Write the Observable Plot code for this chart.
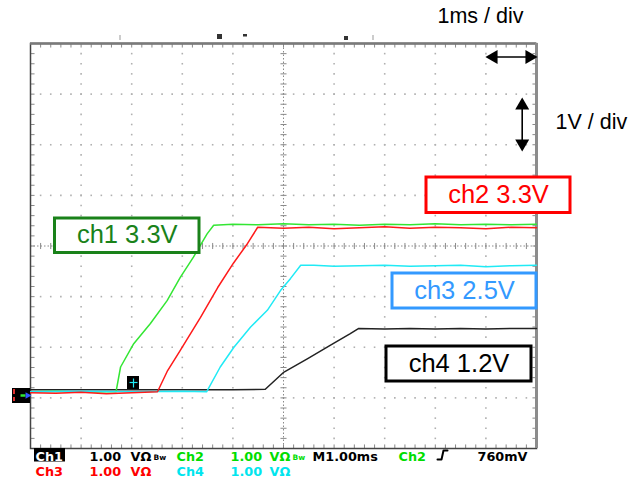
<!DOCTYPE html>
<html>
<head>
<meta charset="utf-8">
<script src="https://cdn.jsdelivr.net/npm/d3@7"></script>
<script src="https://cdn.jsdelivr.net/npm/@observablehq/plot@0.6"></script>
<style>
html, body { margin: 0; padding: 0; background: #fff; }
#chart svg { display: block; }
</style>
</head>
<body>
<div id="chart"></div>
<script>
// ---- Data (time in ms, voltage in V) ----
const ch1Time = [0, 0.5, 1.0, 1.5, 1.69, 1.78, 2.04, 2.37, 2.70, 2.96, 3.22, 3.49, 3.62, 4.0, 4.5, 5.0, 5.5, 6.0, 6.5, 7.0, 7.5, 8.0, 8.5, 9.0, 9.5, 10];
const ch1Volt = [0, 0.01, -0.01, 0, 0, 0.49, 0.95, 1.35, 1.80, 2.26, 2.66, 3.12, 3.29, 3.31, 3.30, 3.32, 3.30, 3.31, 3.29, 3.31, 3.30, 3.32, 3.30, 3.31, 3.30, 3.31];

const ch2Time = [0, 0.5, 1.0, 1.5, 2.0, 2.51, 2.71, 2.96, 3.36, 3.70, 4.01, 4.29, 4.49, 5.0, 5.5, 6.0, 6.5, 7.0, 7.5, 8.0, 8.5, 9.0, 9.5, 10];
const ch2Volt = [-0.02, -0.03, -0.01, -0.04, -0.02, 0, 0.42, 0.82, 1.47, 2.06, 2.54, 2.93, 3.25, 3.23, 3.25, 3.22, 3.24, 3.26, 3.23, 3.25, 3.24, 3.22, 3.25, 3.24];

const ch3Time = [0, 1, 2, 3, 3.48, 3.75, 4.02, 4.35, 4.68, 4.94, 5.14, 5.34, 5.6, 6, 6.5, 7, 7.5, 8, 8.5, 9, 9.5, 10];
const ch3Volt = [0, 0.01, 0, 0.01, 0, 0.49, 0.88, 1.28, 1.61, 2.00, 2.24, 2.50, 2.50, 2.48, 2.49, 2.50, 2.48, 2.49, 2.50, 2.47, 2.49, 2.50];

const ch4Time = [0, 1, 2, 3, 4, 4.64, 5.01, 5.47, 5.93, 6.32, 6.48, 7, 7.5, 8, 8.5, 9, 9.5, 10];
const ch4Volt = [0.04, 0.04, 0.04, 0.04, 0.04, 0.05, 0.39, 0.65, 0.92, 1.15, 1.25, 1.24, 1.25, 1.24, 1.25, 1.24, 1.25, 1.25];

const channelNames = ["ch1", "ch2", "ch3", "ch4"];
const channelLabels = ["ch1 3.3V", "ch2 3.3V", "ch3 2.5V", "ch4 1.2V"];
const traceColors = ["#33e633", "#ff1a1a", "#20eaf5", "#222222"];
const labelColors = ["#1a821a", "#ff0000", "#3399ff", "#000000"];

const timeDiv = "1ms / div";
const voltDiv = "1V / div";

// ---- Scale helpers (pixel -> data) for annotations ----
const W = 638, H = 483;
const mL = 30, mR = W - 536, mT = 43, mB = H - 448;
const vMin = -1.12, vMax = 6.88;
const T = px => (px - mL) / ((536 - mL) / 10);
const V = py => (448 - py) / ((448 - mT) / 8) + vMin;
const vCenter = vMin + 4;

const toRows = (ts, vs) => ts.map((t, i) => ({t, v: vs[i]}));
const traces = [toRows(ch1Time, ch1Volt), toRows(ch2Time, ch2Volt), toRows(ch3Time, ch3Volt), toRows(ch4Time, ch4Volt)];

// ---- Graticule ----
const minorT = d3.range(1, 50).map(j => j * 0.2);
const minorV = d3.range(1, 40).map(j => vMin + j * 0.2);
const majorT = [1, 2, 3, 4, 6, 7, 8, 9];
const majorV = [1, 2, 3, 5, 6, 7].map(k => vMin + k);
const gridDots = [];
for (const t of majorT) for (const v of minorV) gridDots.push({t, v});
for (const v of majorV) for (const t of minorT) gridDots.push({t, v});

const tk = 0.08;
const edgeTicks = [
  ...minorT.map(t => ({x1: t, x2: t, y1: vMax, y2: vMax - tk})),
  ...minorT.map(t => ({x1: t, x2: t, y1: vMin, y2: vMin + tk})),
  ...minorV.map(v => ({x1: 0, x2: tk, y1: v, y2: v})),
  ...minorV.map(v => ({x1: 10, x2: 10 - tk, y1: v, y2: v}))
];
const centerTicks = [
  ...minorV.map(v => ({x1: 5 - 0.06, x2: 5 + 0.06, y1: v, y2: v})),
  ...minorT.map(t => ({x1: t, x2: t, y1: vCenter - 0.06, y2: vCenter + 0.06}))
];

// ---- Annotation layout (pixel boxes) ----
const boxes = [
  {i: 0, x1: 54.5, x2: 199, y1: 218, y2: 252.5, base: 242.7},
  {i: 1, x1: 426, x2: 570, y1: 177, y2: 212.5, base: 202.5},
  {i: 2, x1: 392, x2: 536, y1: 273, y2: 308, base: 298.5},
  {i: 3, x1: 386, x2: 531, y1: 346, y2: 381, base: 371.8}
].map(b => ({
  label: channelLabels[b.i], color: labelColors[b.i],
  x1: T(b.x1), x2: T(b.x2), y1: V(b.y1), y2: V(b.y2),
  cx: T((b.x1 + b.x2) / 2), by: V(b.base)
}));

const r1 = 460, r2 = 475;
const statusItems = [
  {text: "Ch1", x: 35, y: r1, c: "#ffffff"},
  {text: "1.00", x: 89, y: r1, c: "#000000"},
  {text: "VΩ", x: 130, y: r1, c: "#000000"},
  {text: "Ch2", x: 176, y: r1, c: "#00dd00"},
  {text: "1.00", x: 230, y: r1, c: "#00dd00"},
  {text: "VΩ", x: 269, y: r1, c: "#00dd00"},
  {text: "M1.00ms", x: 312, y: r1, c: "#000000"},
  {text: "Ch2", x: 398, y: r1, c: "#00dd00"},
  {text: "760mV", x: 477, y: r1, c: "#000000"},
  {text: "Ch3", x: 35, y: r2, c: "#ff0000"},
  {text: "1.00", x: 89, y: r2, c: "#ff0000"},
  {text: "VΩ", x: 130, y: r2, c: "#ff0000"},
  {text: "Ch4", x: 176, y: r2, c: "#00e5ee"},
  {text: "1.00", x: 230, y: r2, c: "#00e5ee"},
  {text: "VΩ", x: 269, y: r2, c: "#00e5ee"}
].map(d => ({...d, tx: T(d.x), ty: V(d.y)}));
const bwItems = [
  {text: "Bw", x: 153, y: 459, c: "#000000"},
  {text: "Bw", x: 292, y: 459, c: "#00dd00"}
].map(d => ({...d, tx: T(d.x), ty: V(d.y)}));

const pxRect = (x1, x2, y1, y2, extra = {}) => ({x1: T(x1), x2: T(x2), y1: V(y1), y2: V(y2), ...extra});
const sansFont = "Liberation Sans, Arial, sans-serif";
const statusFont = "DejaVu Sans, sans-serif";

const plot = Plot.plot({
  width: W, height: H,
  marginLeft: mL, marginRight: mR, marginTop: mT, marginBottom: mB,
  x: {domain: [0, 10], axis: null},
  y: {domain: [vMin, vMax], axis: null},
  style: {background: "#fff", overflow: "visible"},
  marks: [
    // graticule
    Plot.dot(gridDots, {x: "t", y: "v", symbol: "square", r: 0.9, fill: "#b0b0b0"}),
    Plot.ruleX([5], {y1: vMin, y2: vMax, stroke: "#8a8a8a", strokeWidth: 1, strokeDasharray: "1.5 2"}),
    Plot.ruleY([vCenter], {x1: 0, x2: 10, stroke: "#8a8a8a", strokeWidth: 1, strokeDasharray: "1.5 2"}),
    Plot.link(centerTicks, {x1: "x1", x2: "x2", y1: "y1", y2: "y2", stroke: "#8a8a8a", strokeWidth: 1}),
    Plot.link(edgeTicks, {x1: "x1", x2: "x2", y1: "y1", y2: "y2", stroke: "#8a8a8a", strokeWidth: 1}),
    Plot.frame({stroke: "#444", strokeWidth: 1.5}),
    Plot.ruleY([vMax], {x1: 0, x2: 10, stroke: "#7a7a7a", strokeWidth: 2.5}),
    Plot.ruleX([10], {y1: vMin, y2: vMax, stroke: "#8c8c8c", strokeWidth: 3}),
    // top small markers
    Plot.rect([pxRect(217, 222, 34, 39), pxRect(243, 247, 34, 36.5), pxRect(344, 348, 36, 40)], {x1: "x1", x2: "x2", y1: "y1", y2: "y2", fill: "#333"}),
    Plot.rect([pxRect(119, 121, 35, 40), pxRect(372, 374, 35, 40)], {x1: "x1", x2: "x2", y1: "y1", y2: "y2", fill: "#ccc"}),
    // traces
    Plot.line(traces[3], {x: "t", y: "v", stroke: traceColors[3], strokeWidth: 1.5}),
    Plot.line(traces[0], {x: "t", y: "v", stroke: traceColors[0], strokeWidth: 1.5}),
    Plot.line(traces[2], {x: "t", y: "v", stroke: traceColors[2], strokeWidth: 1.5}),
    Plot.line(traces[1], {x: "t", y: "v", stroke: traceColors[1], strokeWidth: 1.5}),
    // ground marker
    Plot.rect([pxRect(12, 30, 388, 403)], {x1: "x1", x2: "x2", y1: "y1", y2: "y2", fill: "#000"}),
    Plot.link([{x1: T(20), x2: T(25), y1: V(395), y2: V(395)}], {x1: "x1", x2: "x2", y1: "y1", y2: "y2", stroke: "#33e633", strokeWidth: 2.5}),
    Plot.dot([{x: T(27), y: V(395)}], {x: "x", y: "y", symbol: "triangle", r: 2.5, rotate: 90, fill: "#3355ff"}),
    Plot.rect([pxRect(13, 15, 389, 394), pxRect(13, 15, 397, 401)], {x1: "x1", x2: "x2", y1: "y1", y2: "y2", fill: "#e03030"}),
    // trigger marker
    Plot.rect([pxRect(127, 139, 376, 389)], {x1: "x1", x2: "x2", y1: "y1", y2: "y2", fill: "#000"}),
    Plot.link([{x1: T(129), x2: T(137), y1: V(382), y2: V(382)}, {x1: T(133), x2: T(133), y1: V(378), y2: V(387)}], {x1: "x1", x2: "x2", y1: "y1", y2: "y2", stroke: "#20eaf5", strokeWidth: 1.2}),
    // channel label boxes
    Plot.rect(boxes, {x1: "x1", x2: "x2", y1: "y1", y2: "y2", fill: "#fff", stroke: "color", strokeWidth: 3}),
    Plot.text(boxes, {x: "cx", y: "by", text: "label", fill: "color", fontSize: 25.5, fontFamily: sansFont, textAnchor: "middle", lineAnchor: "bottom"}),
    // scale annotations
    Plot.text([timeDiv], {x: T(437), y: V(22), text: d => d, fontSize: 21.5, fontFamily: sansFont, textAnchor: "start", lineAnchor: "bottom", fill: "#000"}),
    Plot.text([voltDiv], {x: T(555), y: V(128), text: d => d, fontSize: 21.5, fontFamily: sansFont, textAnchor: "start", lineAnchor: "bottom", fill: "#000"}),
    Plot.link([{x1: T(490), x2: T(532), y1: V(56.5), y2: V(56.5)}, {x1: T(521.7), x2: T(521.7), y1: V(101), y2: V(147)}], {x1: "x1", x2: "x2", y1: "y1", y2: "y2", stroke: "#000", strokeWidth: 1.6}),
    Plot.dot([
      {x: T(493), y: V(56.5), r: -90},
      {x: T(529), y: V(56.5), r: 90},
      {x: T(521.7), y: V(105), r: 0},
      {x: T(521.7), y: V(143), r: 180}
    ], {x: "x", y: "y", rotate: "r", symbol: "triangle", r: 5.2, fill: "#000"}),
    // status bar
    Plot.rect([pxRect(34, 65, 448, 461.5)], {x1: "x1", x2: "x2", y1: "y1", y2: "y2", fill: "#000"}),
    Plot.text(statusItems, {x: "tx", y: "ty", text: "text", fill: "c", fontSize: 12.8, fontWeight: "bold", fontFamily: statusFont, textAnchor: "start", lineAnchor: "bottom"}),
    Plot.text(bwItems, {x: "tx", y: "ty", text: "text", fill: "c", fontSize: 7.5, fontWeight: "bold", fontFamily: statusFont, textAnchor: "start", lineAnchor: "bottom"}),
    Plot.line([{x: T(437), y: V(459)}, {x: T(441), y: V(459)}, {x: T(443), y: V(450)}, {x: T(447), y: V(450)}], {x: "x", y: "y", stroke: "#000", strokeWidth: 2})
  ]
});
document.getElementById("chart").appendChild(plot);
</script>
</body>
</html>
